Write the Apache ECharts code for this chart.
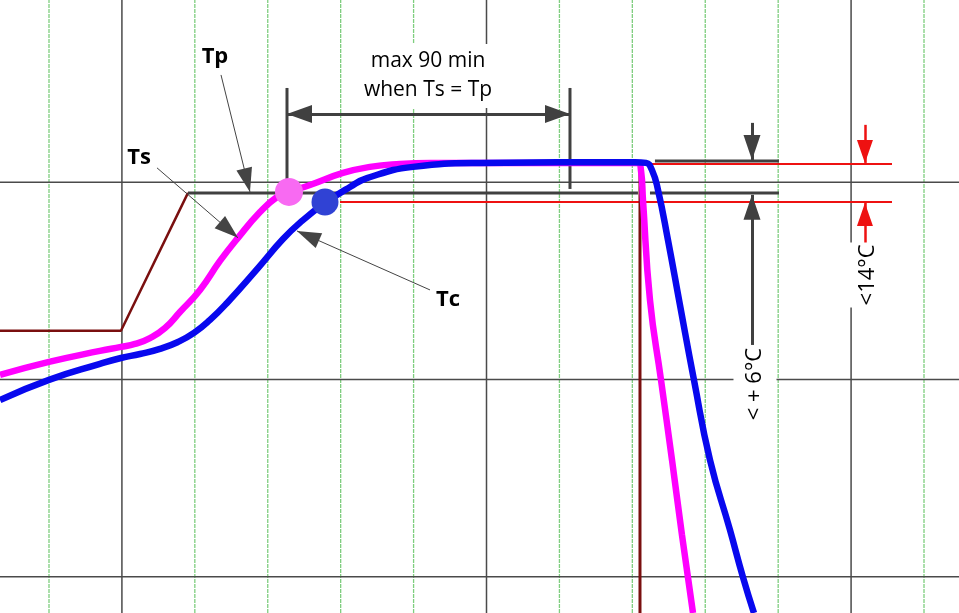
<!DOCTYPE html>
<html>
<head>
<meta charset="utf-8">
<title>Reflow profile</title>
<script src="https://cdn.jsdelivr.net/npm/echarts@6/dist/echarts.min.js"></script>
<style>
  html, body { margin: 0; padding: 0; background: #fff; }
  #chart { width: 959px; height: 613px; }
</style>
</head>
<body>
<div id="chart"></div>
<script>
// window of the schematic (time, temperature)
var X_MIN = -6.72, X_MAX = 124.8;
var Y_MIN = 81.6, Y_MAX = 392.4;

// grid
var minorX = [0, 20, 30, 40, 50, 70, 80, 90, 100, 120];
var majorX = [10, 60, 110];
var majorY = [100, 200, 300];

// surface temperature curve (pink)
var pinkX = [-6.72, 0, 6.99, 9.87, 11.79, 13.85, 15.91, 17.96, 20.71, 23.45, 25.92, 28.94, 31.27, 32.91, 35.79, 40.32, 44.02, 48.13, 52.25, 80.77, 81.18, 81.46, 82.42, 83.93, 85.44, 86.81, 88.32];
var pinkY = [202.3, 208.9, 214.5, 216.5, 218.0, 221.0, 226.1, 234.2, 245.4, 260.1, 271.8, 284.9, 292.5, 295.1, 298.6, 304.7, 307.8, 309.3, 309.8, 309.8, 306.2, 291.0, 240.3, 199.8, 159.2, 121.1, 81.6];

// core temperature curve (blue)
var blueX = [-6.72, 0, 6.99, 9.87, 12.48, 15.22, 17.69, 19.88, 22.08, 24.41, 28.66, 32.09, 34.70, 37.85, 41.28, 43.61, 49.92, 59.11, 80.36, 81.87, 82.69, 83.52, 84.89, 86.53, 88.45, 90.65, 93.39, 95.17, 96.68];
var blueY = [189.6, 199.8, 207.9, 210.9, 212.9, 215.5, 219.0, 223.6, 230.2, 238.8, 256.5, 271.2, 280.4, 289.5, 297.6, 302.1, 307.8, 309.8, 310.2, 309.8, 306.2, 296.1, 270.7, 237.8, 199.8, 159.2, 123.7, 99.8, 81.6];

// set point ramp (dark red)
var rampX = [-6.72, 9.87, 19.06];
var rampY = [224.7, 224.7, 294.6];
var coolTime = 81.05;

// marker points Tp / Tc
var tpPoint = [32.91, 295.1];
var tcPoint = [37.85, 290.0];

// levels
var tsLevel = 294.6, topLevel = 310.8, redHigh = 309.3, redLow = 290.0, dimLevel = 334.6, dimTop = 347.8;
var holdStart = 32.64, holdEnd = 71.45, tickX = 96.41, redArrowX = 111.9;

function zip(xs, ys) { return xs.map(function (x, i) { return [x, ys[i]]; }); }

function seg(points, color, width, z, dash) {
  return {
    type: 'line', data: points, z: z, silent: true,
    showSymbol: false, symbol: 'none',
    lineStyle: { color: color, width: width, type: dash || 'solid' }
  };
}

// arrow: from a to b with the head at b (and optionally at a)
function arrow(a, b, w, h, both) {
  var head = { symbol: 'triangle', symbolSize: [w, h], symbolOffset: [0, h / 2] };
  var s = both ? Object.assign({ coord: a }, head) : { coord: a, symbol: 'none' };
  return [s, Object.assign({ coord: b }, head)];
}

var series = [];

// grid lines
minorX.forEach(function (x) {
  series.push(seg([[x, Y_MIN], [x, Y_MAX]], '#7fce7f', 1.3, 1, [4, 1]));
});
majorX.forEach(function (x) {
  series.push(seg([[x, Y_MIN], [x, Y_MAX]], '#4a4a4a', 1.5, 1));
});
majorY.forEach(function (y) {
  series.push(seg([[X_MIN, y], [X_MAX, y]], '#4a4a4a', 1.5, 1));
});

// red tolerance lines
series.push(seg([[81.46, redHigh], [115.61, redHigh]], '#ee1111', 2, 2));
series.push(seg([[39.91, redLow], [115.61, redLow]], '#ee1111', 2, 2));

// set point
series.push(seg(zip(rampX, rampY), '#7a0f0f', 2.5, 2));
series.push(seg([[coolTime, 309.8], [coolTime, Y_MIN]], '#7a0f0f', 3, 2));

// dark dimension lines
var dark = '#404040';
series.push(seg([[19.06, tsLevel], [80.77, tsLevel]], dark, 3, 3));
series.push(seg([[82.42, tsLevel], [100.11, tsLevel]], dark, 3, 3));
series.push(seg([[83.10, topLevel], [100.11, topLevel]], dark, 3, 3));
series.push(seg([[holdStart, dimTop], [holdStart, tsLevel]], dark, 3, 3));
series.push(seg([[holdEnd, dimTop], [holdEnd, 296.6]], dark, 3, 3));

// curves
series.push({
  type: 'line', data: zip(pinkX, pinkY), z: 4, silent: true, smooth: 0.5,
  showSymbol: false, symbol: 'none', lineStyle: { color: '#ff00ff', width: 6.5 }
});
series.push({
  type: 'line', data: zip(blueX, blueY), z: 5, silent: true, smooth: 0.5,
  showSymbol: false, symbol: 'none', lineStyle: { color: '#0808ee', width: 6.5 }
});

// Tp / Tc dots
series.push({
  type: 'scatter', z: 6, silent: true,
  data: [
    { value: tpPoint, symbolSize: 28, itemStyle: { color: '#f86af2', opacity: 1 } },
    { value: tcPoint, symbolSize: 27, itemStyle: { color: '#3042d4', opacity: 1 } }
  ]
});

// dimension arrows
series.push({
  type: 'line', data: [], silent: true,
  markLine: {
    z: 3, silent: true, animation: false,
    label: { show: false },
    lineStyle: { color: dark, width: 3, type: 'solid' },
    emphasis: { disabled: true },
    data: [
      arrow([holdStart, dimLevel], [holdEnd, dimLevel], 18, 25, true),
      arrow([tickX, 330.1], [tickX, 311.3], 17, 25),
      arrow([tickX, 217.5], [tickX, 293.6], 17, 25)
    ]
  }
});
series.push({
  type: 'line', data: [], silent: true,
  markLine: {
    z: 3, silent: true, animation: false,
    label: { show: false },
    lineStyle: { color: '#ee1111', width: 2.5, type: 'solid' },
    emphasis: { disabled: true },
    data: [
      arrow([redArrowX, 329.1], [redArrowX, 309.8], 16, 23),
      arrow([redArrowX, 269.2], [redArrowX, 289.5], 16, 23)
    ]
  }
});

// pointer arrows for Tp / Ts / Tc
series.push({
  type: 'line', data: [], silent: true,
  markLine: {
    z: 7, silent: true, animation: false,
    label: { show: false },
    lineStyle: { color: '#444', width: 1, type: 'solid' },
    emphasis: { disabled: true },
    data: [
      arrow([23.59, 354.4], [27.56, 295.1], 16, 24),
      arrow([14.81, 307.3], [25.92, 271.8], 16, 24),
      arrow([52.25, 245.4], [34.01, 275.3], 16, 24)
    ]
  }
});

// texts
var boldText = { show: true, position: 'inside', fontFamily: 'Open Sans', fontWeight: 'bold', fontSize: 22, color: '#000' };
var plainText = { show: true, position: 'inside', fontFamily: 'Open Sans', fontSize: 21, color: '#000' };
series.push({
  type: 'scatter', z: 8, silent: true, symbolSize: 1,
  itemStyle: { color: 'rgba(0,0,0,0)', opacity: 1 },
  label: { show: true, formatter: '{b}' },
  data: [
    { name: 'Tp', value: [22.76, 363.5], label: boldText },
    { name: 'Ts', value: [12.34, 312.3], label: boldText },
    { name: 'Tc', value: [54.72, 240.3], label: boldText },
    { name: 'max 90 min\nwhen Ts = Tp', value: [51.98, 353.9],
      label: Object.assign({}, plainText, { lineHeight: 29, backgroundColor: '#fff', padding: [3, 6] }) },
    { name: '< + 6°C', value: [96.82, 197.7],
      label: Object.assign({}, plainText, { fontSize: 22, rotate: 90, lineHeight: 27, backgroundColor: '#fff', padding: [8, 2] }) },
    { name: '<14°C', value: [112.31, 253.0],
      label: Object.assign({}, plainText, { fontSize: 22, rotate: 90, lineHeight: 26, backgroundColor: '#fff', padding: [6, 2] }) }
  ]
});

var chart = echarts.init(document.getElementById('chart'));
chart.setOption({
  animation: false,
  backgroundColor: '#fff',
  grid: { left: 0, right: 0, top: 0, bottom: 0 },
  xAxis: { type: 'value', min: X_MIN, max: X_MAX, show: false },
  yAxis: { type: 'value', min: Y_MIN, max: Y_MAX, show: false },
  series: series
});
</script>
</body>
</html>
